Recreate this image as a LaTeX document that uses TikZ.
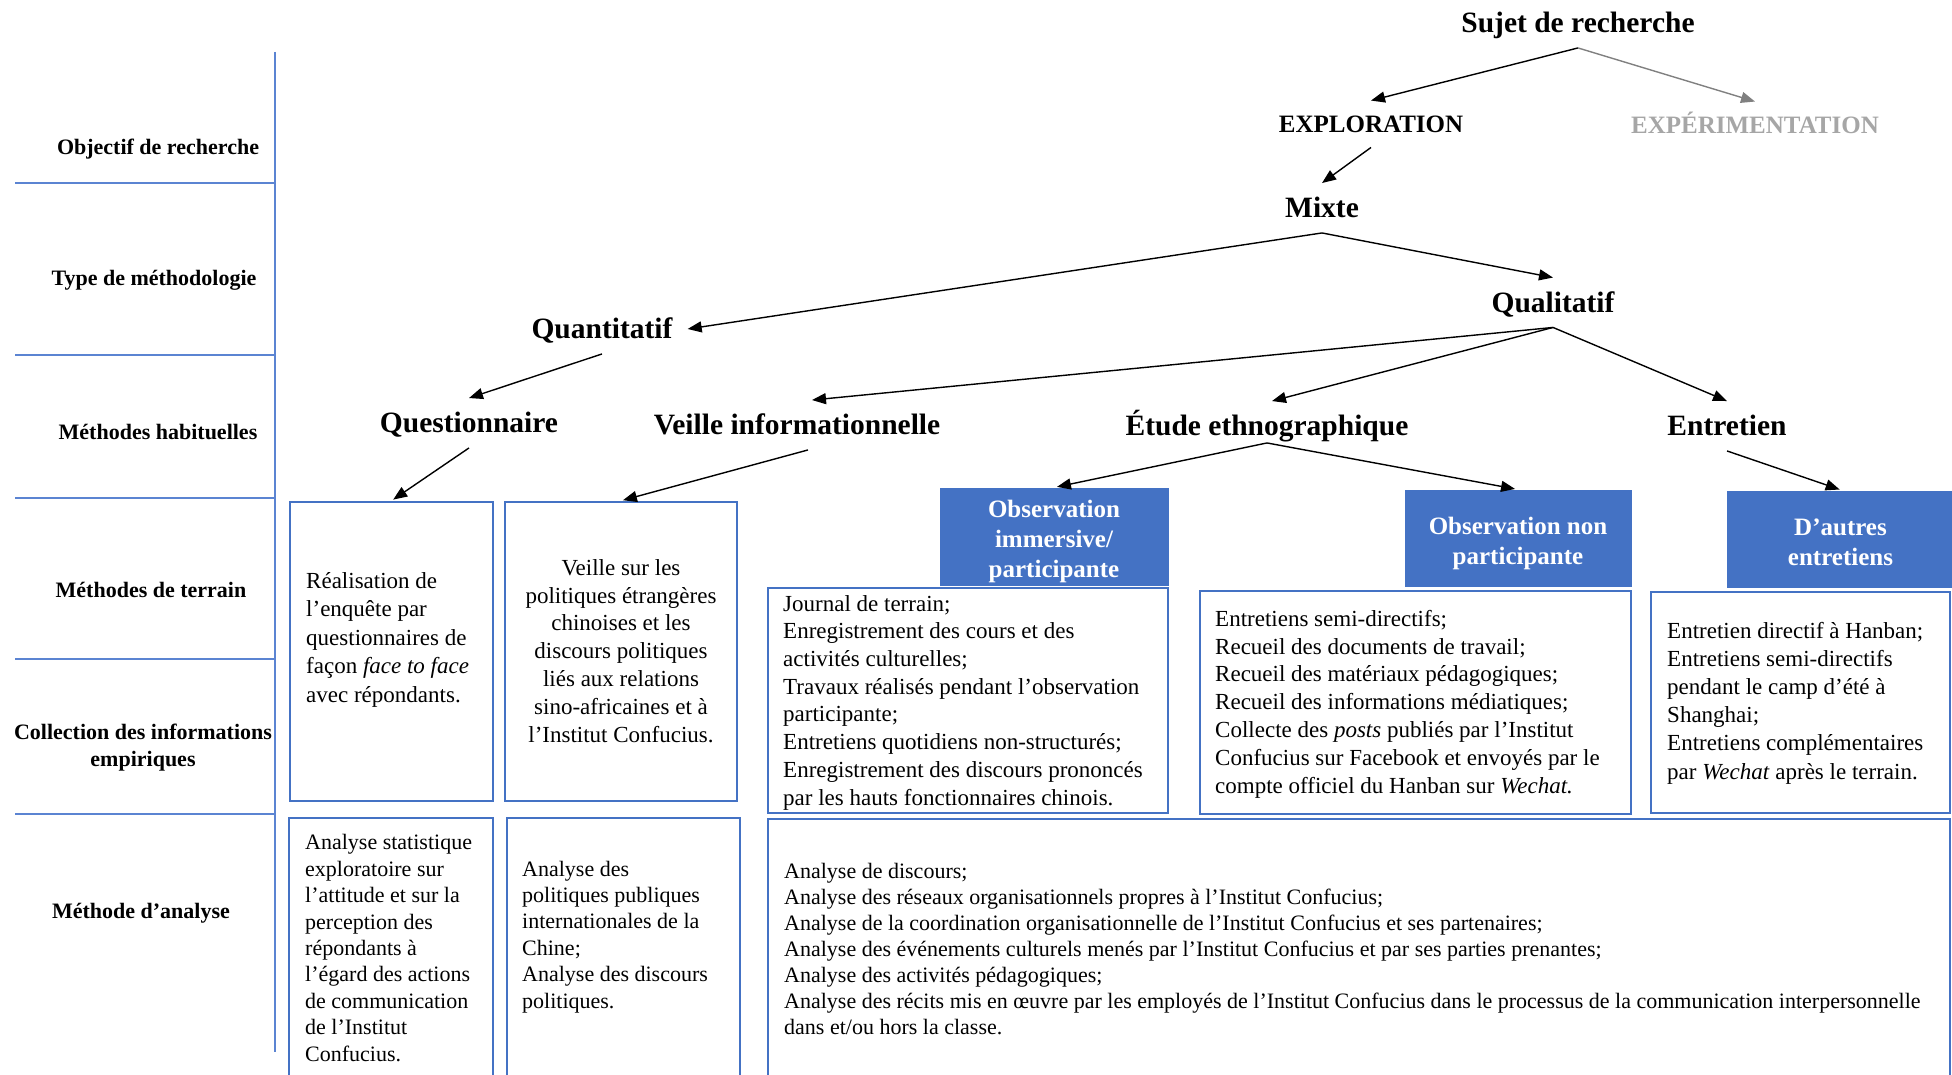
\documentclass[tikz,border=0pt]{standalone}
\usepackage{fontspec}
\setmainfont{Liberation Serif}
\usetikzlibrary{arrows.meta}
\definecolor{frameblue}{HTML}{4472C4}
\definecolor{ruleblue}{HTML}{5B84D2}
\definecolor{greyarrow}{HTML}{808080}
\definecolor{greytext}{HTML}{A6A6A6}
\newcommand{\setfs}[2]{\fontsize{#1}{#2}\selectfont}
\tikzset{
  tierlabel/.style={font=\bfseries\setfs{29.5}{32}, inner xsep=15pt, inner ysep=15pt,
    text height=19.5pt, text depth=0pt},
  goal/.style={font=\bfseries\setfs{25}{28}, inner xsep=15pt, inner ysep=15pt,
    text height=16.5pt, text depth=0pt},
  rowlabel/.style={font=\bfseries\setfs{22}{27}, align=center, inner sep=0pt, anchor=base},
  treelink/.style={-{Triangle[length=14pt,width=11pt]}, line width=1.4pt, black},
  cellbox/.style={draw=frameblue, line width=2.5pt, rectangle, inner sep=0pt},
  cellhead/.style={fill=frameblue, draw=frameblue, line width=1pt, rectangle, inner sep=0pt},
  headtext/.style={inner sep=0pt, text=white, font=\bfseries\setfs{25}{30}, align=center},
  celltext/.style={inner sep=0pt, align=left, anchor=base west},
  sepline/.style={draw=ruleblue, line width=1.5pt},
}
\begin{document}
\begin{tikzpicture}[x=1pt,y=-1pt]
\useasboundingbox (0,0) rectangle (1952,1075);
\clip (0,0) rectangle (1952,1075);

% row separators
\draw[sepline] (275,52) -- (275,1052);
\foreach \yy in {183,355,498,659,814} \draw[sepline] (15,\yy) -- (275,\yy);

% row labels (multi-line texts are placed by the baseline of their last line)
\node[rowlabel] (r1) at (158,155) {Objectif de recherche};
\node[rowlabel] (r2) at (154,286) {Type de méthodologie};
\node[rowlabel] (r3) at (158,439) {Méthodes habituelles};
\node[rowlabel] (r4) at (151,597) {Méthodes de terrain};
\node[rowlabel] (r5) at (143,766) {Collection des informations\\empiriques};
\node[rowlabel] (r6) at (141,918) {Méthode d’analyse};

% tree of choices
\node[tierlabel] (sujet) at (1578,23) {Sujet de recherche};
\node[goal] (explo) at (1371,124) {EXPLORATION};
\node[goal, text=greytext] (expe) at (1755,125) {EXPÉRIMENTATION};
\node[tierlabel] (mixte) at (1322,208) {Mixte};
\node[tierlabel] (quanti) at (602,329) {Quantitatif};
\node[tierlabel] (quali) at (1553,302.5) {Qualitatif};
\node[tierlabel] (quest) at (469,423) {Questionnaire};
\node[tierlabel] (veille) at (797,425) {Veille informationnelle};
\node[tierlabel] (etude) at (1267,426) {Étude ethnographique};
\node[tierlabel] (entre) at (1727,426) {Entretien};

% field method boxes
\node[cellbox, minimum width=203pt, minimum height=299pt] (b1) at (391.5,651.5) {};
\node[cellbox, minimum width=232pt, minimum height=299pt] (b2) at (621,651.5) {};
\node[cellbox, minimum width=204pt, minimum height=272pt] (b3) at (391,954) {};
\node[cellbox, minimum width=233pt, minimum height=272pt] (b4) at (623.5,954) {};
\node[cellbox, minimum width=400pt, minimum height=225pt] (c1) at (968,700.5) {};
\node[cellbox, minimum width=431pt, minimum height=223pt] (c2) at (1415.5,702.5) {};
\node[cellbox, minimum width=299pt, minimum height=221pt] (c3) at (1800.5,702.5) {};
\node[cellbox, minimum width=1182pt, minimum height=271pt] (big) at (1359,954.5) {};

% blue headers and their titles
\node[cellhead, minimum width=228pt, minimum height=97pt] (h1) at (1054,536.5) {};
\node[cellhead, minimum width=226pt, minimum height=96pt] (h2) at (1518,538) {};
\node[cellhead, minimum width=231pt, minimum height=96pt] (h3) at (1842.5,539) {};
\node[headtext, yshift=-5pt] (h1t) at (h1.center) {Observation\\immersive/\\participante};
\node[headtext, yshift=-5pt] (h2t) at (h2.center) {Observation non\\participante};
\node[headtext, yshift=-3pt, xshift=-2pt] (h3t) at (h3.center) {D’autres\\entretiens};

% connectors
\draw[treelink] (sujet.south) -- (explo.north);
\draw[treelink, greyarrow] (sujet.south) -- (expe.north);
\draw[treelink] (explo.south) -- (mixte.north);
\draw[treelink] (mixte.south) -- (quanti.east);
\draw[treelink] (mixte.south) -- (quali.north);
\draw[treelink] (quali.south) -- ([xshift=15pt]veille.north);
\draw[treelink] (quali.south) -- ([xshift=5pt]etude.north);
\draw[treelink] (quali.south) -- (entre.north);
\draw[treelink] (quanti.south) -- (quest.north);
\draw[treelink, shorten >=2pt] (quest.south) -- (b1.north);
\draw[treelink, shorten >=2pt] ([xshift=11pt]veille.south) -- (b2.north);
\draw[treelink, shorten >=3pt] ([yshift=8pt]etude.south) -- (h1.north);
\draw[treelink, shorten >=3pt] ([yshift=8pt]etude.south) -- (h2.north);
\draw[treelink, shorten >=3pt] (entre.south) -- (h3.north);

% box contents (placed by the baseline of their last line)
\node[celltext, font=\setfs{23}{28.5}] (t1) at (306,702)
  {Réalisation de\\l’enquête par\\questionnaires de\\façon \textit{face to face}\\avec répondants.};
\node[inner sep=0pt, align=center, anchor=base, font=\setfs{23}{27.8}] (t2) at (621,742)
  {Veille sur les\\politiques étrangères\\chinoises et les\\discours politiques\\liés aux relations\\sino-africaines et à\\l’Institut Confucius.};
\node[celltext, font=\setfs{22}{26.4}] (t3) at (305,1061)
  {Analyse statistique\\exploratoire sur\\l’attitude et sur la\\perception des\\répondants à\\l’égard des actions\\de communication\\de l’Institut\\Confucius.};
\node[celltext, font=\setfs{22}{26.4}] (t4) at (522,1008)
  {Analyse des\\politiques publiques\\internationales de la\\Chine;\\Analyse des discours\\politiques.};
\node[celltext, font=\setfs{23}{27.7}] (t5) at (783,805)
  {Journal de terrain;\\Enregistrement des cours et des\\activités culturelles;\\Travaux réalisés pendant l’observation\\participante;\\Entretiens quotidiens non-structurés;\\Enregistrement des discours prononcés\\par les hauts fonctionnaires chinois.};
\node[celltext, font=\setfs{23}{27.8}] (t6) at (1215,793)
  {Entretiens semi-directifs;\\Recueil des documents de travail;\\Recueil des matériaux pédagogiques;\\Recueil des informations médiatiques;\\Collecte des \textit{posts} publiés par l’Institut\\Confucius sur Facebook et envoyés par le\\compte officiel du Hanban sur \textit{Wechat.}};
\node[celltext, font=\setfs{23}{28.2}] (t7) at (1667,779)
  {Entretien directif à Hanban;\\Entretiens semi-directifs\\pendant le camp d’été à\\Shanghai;\\Entretiens complémentaires\\par \textit{Wechat} après le terrain.};
\node[celltext, font=\setfs{22}{26}] (t8) at (784,1034)
  {Analyse de discours;\\Analyse des réseaux organisationnels propres à l’Institut Confucius;\\Analyse de la coordination organisationnelle de l’Institut Confucius et ses partenaires;\\Analyse des événements culturels menés par l’Institut Confucius et par ses parties prenantes;\\Analyse des activités pédagogiques;\\Analyse des récits mis en œuvre par les employés de l’Institut Confucius dans le processus de la communication interpersonnelle\\dans et/ou hors la classe.};
\end{tikzpicture}
\end{document}
